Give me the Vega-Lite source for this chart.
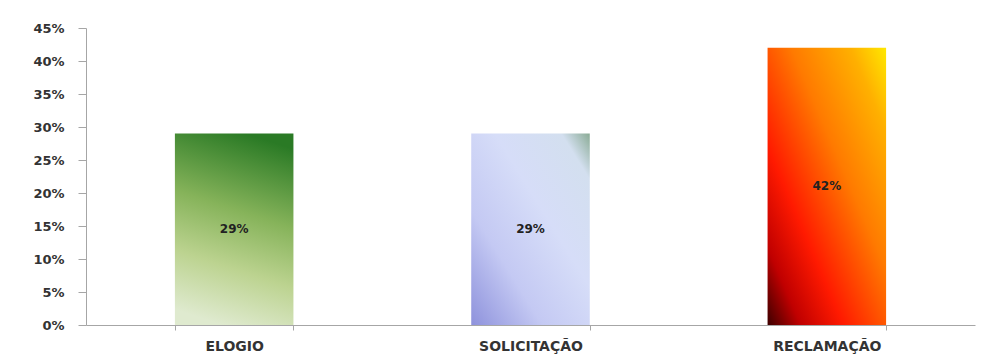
{
  "$schema": "https://vega.github.io/schema/vega-lite/v6.json",
  "width": 889,
  "height": 297,
  "autosize": {"type": "none"},
  "padding": {"left": 86, "top": 28, "right": 16, "bottom": 33},
  "background": "white",
  "config": {"view": {"stroke": null}},
  "data": {
    "values": [
      {"tipo": "ELOGIO", "valor": 0.29},
      {"tipo": "SOLICITAÇÃO", "valor": 0.29},
      {"tipo": "RECLAMAÇÃO", "valor": 0.42}
    ]
  },
  "encoding": {
    "x": {
      "field": "tipo", "type": "nominal", "sort": null,
      "scale": {"paddingInner": 0.6, "paddingOuter": 0.3},
      "axis": {
        "title": null, "labelAngle": 0, "tickBand": "extent",
        "domainColor": "#a6a6a6", "tickColor": "#a6a6a6", "tickSize": 5,
        "labelFont": "DejaVu Sans", "labelFontWeight": "bold", "labelFontSize": 14,
        "labelColor": "#333333", "labelPadding": 9
      }
    },
    "y": {
      "field": "valor", "type": "quantitative",
      "scale": {"domain": [0, 0.45], "nice": false},
      "axis": {
        "title": null, "values": [0, 0.05, 0.1, 0.15, 0.2, 0.25, 0.3, 0.35, 0.4, 0.45],
        "format": ".0%", "grid": false,
        "domainColor": "#a6a6a6", "tickColor": "#a6a6a6", "tickSize": 8,
        "labelFont": "DejaVu Sans", "labelFontWeight": "bold", "labelFontSize": 13,
        "labelColor": "#333333", "labelPadding": 14
      }
    }
  },
  "layer": [
    {
      "transform": [{"filter": "datum.tipo === 'ELOGIO'"}],
      "mark": {
        "type": "bar",
        "color": {
          "gradient": "linear", "x1": 0.4, "y1": 1, "x2": 0.6, "y2": 0,
          "stops": [
            {"offset": 0, "color": "#dfeacf"},
            {"offset": 0.3, "color": "#bcd390"},
            {"offset": 0.6, "color": "#86b35a"},
            {"offset": 1, "color": "#2a7a25"}
          ]
        }
      }
    },
    {
      "transform": [{"filter": "datum.tipo === 'SOLICITAÇÃO'"}],
      "mark": {
        "type": "bar",
        "color": {
          "gradient": "linear", "x1": 0, "y1": 1, "x2": 1, "y2": 0,
          "stops": [
            {"offset": 0, "color": "#8e92dc"},
            {"offset": 0.3, "color": "#c4c9f3"},
            {"offset": 0.6, "color": "#d6ddf8"},
            {"offset": 0.88, "color": "#d3dfef"},
            {"offset": 1, "color": "#8aab95"}
          ]
        }
      }
    },
    {
      "transform": [{"filter": "datum.tipo === 'RECLAMAÇÃO'"}],
      "mark": {
        "type": "bar",
        "color": {
          "gradient": "linear", "x1": 0, "y1": 1, "x2": 1, "y2": 0,
          "stops": [
            {"offset": 0, "color": "#3d0000"},
            {"offset": 0.14, "color": "#c00000"},
            {"offset": 0.32, "color": "#ff1a00"},
            {"offset": 0.6, "color": "#ff7a00"},
            {"offset": 0.85, "color": "#ffb000"},
            {"offset": 1, "color": "#ffe800"}
          ]
        }
      }
    },
    {
      "transform": [{"calculate": "datum.valor / 2", "as": "meio"}],
      "mark": {"type": "text", "font": "DejaVu Sans", "fontWeight": "bold", "fontSize": 12, "color": "#222222", "baseline": "middle"},
      "encoding": {
        "y": {"field": "meio", "type": "quantitative"},
        "text": {"field": "valor", "type": "quantitative", "format": ".0%"}
      }
    }
  ]
}
